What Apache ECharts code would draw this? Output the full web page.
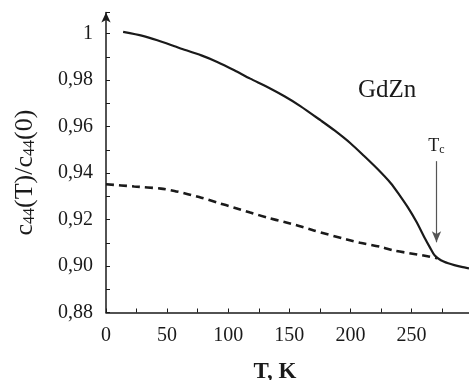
<!DOCTYPE html>
<html>
<head>
<meta charset="utf-8">
<script src="https://cdn.jsdelivr.net/npm/echarts@6/dist/echarts.min.js"></script>
<style>
html,body{margin:0;padding:0;background:#fff;}
#chart{width:469px;height:380px;}
</style>
</head>
<body>
<div id="chart"></div>
<script>
// ---- data ----
var solidT = [14, 30, 42, 60, 78, 91, 105, 118, 132, 146, 159, 176, 187, 200, 211, 222, 233, 240, 247, 254, 261, 265, 269, 274, 280, 285, 291, 297];
var solidV = [1.0007, 0.9990, 0.9971, 0.9938, 0.9906, 0.9878, 0.9842, 0.9806, 0.9770, 0.9730, 0.9688, 0.9625, 0.9583, 0.9528, 0.9474, 0.9418, 0.9356, 0.9306, 0.9252, 0.9190, 0.9118, 0.9080, 0.9045, 0.9025, 0.9012, 0.9004, 0.8996, 0.8990];
var dashT = [0, 23, 45, 56, 67, 78, 91, 105, 118, 132, 146, 158, 170, 197, 208, 225, 236, 252, 263, 271];
var dashV = [0.9352, 0.9342, 0.9333, 0.9323, 0.9309, 0.9294, 0.9273, 0.9251, 0.9230, 0.9208, 0.9189, 0.9172, 0.9153, 0.9114, 0.9100, 0.9082, 0.9066, 0.9052, 0.9042, 0.9033];
var xTickLabels = [0, 50, 100, 150, 200, 250];
var yTickLabels = [0.88, 0.90, 0.92, 0.94, 0.96, 0.98, 1.00];
var tcT = 270.4;
var tcRange = [0.9451, 0.9102];
var sampleName = 'GdZn';

function pairs(xs, ys){ return xs.map(function(x,i){ return [x, ys[i]]; }); }

var FONT = 'Liberation Serif';
var chart = echarts.init(document.getElementById('chart'), null, {renderer:'canvas'});
var option = {
  animation: false,
  backgroundColor: '#fff',
  grid: { left: 106, right: 0, top: 12.6, bottom: 67.5, containLabel: false, outerBoundsMode: 'none' },
  xAxis: {
    type: 'value', min: 0, max: 297, interval: 25,
    name: 'T, K', nameLocation: 'middle', nameGap: 48,
    nameTextStyle: { fontFamily: FONT, fontSize: 23, fontWeight: 'bold', color: '#1a1a1a', padding: [0, 25, 0, 0] },
    axisLine: { show: true, onZero: false, lineStyle: { color: '#1a1a1a', width: 1.5 } },
    axisTick: { show: true, inside: true, length: 4, lineStyle: { color: '#1a1a1a', width: 1 } },
    axisLabel: {
      margin: 13, fontFamily: FONT, fontSize: 20, color: '#1a1a1a',
      formatter: function(v){ return xTickLabels.indexOf(Math.round(v)) >= 0 ? String(Math.round(v)) : ''; }
    },
    splitLine: { show: false }
  },
  yAxis: {
    type: 'value', min: 0.88, max: 1.009, interval: 0.01,
    name: 'c{s|44}(T)/c{s|44}(0)', nameLocation: 'middle', nameGap: 68, nameRotate: 90,
    nameTextStyle: {
      fontFamily: FONT, fontSize: 26, color: '#1a1a1a', padding: [0, 20, 0, 0],
      rich: { s: { fontFamily: FONT, fontSize: 16, color: '#1a1a1a', padding: [9, 0, 0, 0] } }
    },
    axisLine: { show: true, onZero: false, symbol: ['none', 'arrow'], symbolSize: [7, 10], lineStyle: { color: '#1a1a1a', width: 1.5 } },
    axisTick: { show: true, inside: true, length: 4, lineStyle: { color: '#1a1a1a', width: 1 } },
    axisLabel: {
      margin: 13, fontFamily: FONT, fontSize: 20, color: '#1a1a1a',
      formatter: function(v){
        var k = Math.round(v * 100);
        var hit = yTickLabels.some(function(t){ return Math.round(t*100) === k; });
        if (!hit) return '';
        if (k === 100) return '1';
        return (k / 100).toFixed(2).replace('.', ',');
      }
    },
    splitLine: { show: false }
  },
  graphic: [{
    type: 'text', left: 358, top: 78,
    style: { text: sampleName, fontFamily: FONT, fontSize: 25, fill: '#1a1a1a' }
  }],
  series: [
    {
      type: 'line', data: pairs(solidT, solidV), smooth: 0.25,
      symbol: 'none', lineStyle: { color: '#1a1a1a', width: 2.2 },
      markLine: {
        silent: true, animation: false,
        lineStyle: { color: '#555', width: 1.2, type: 'solid' },
        symbolSize: [7, 11],
        label: {
          show: true, position: 'start', distance: 5,
          formatter: '{t|T}{c|c}',
          rich: {
            t: { fontFamily: FONT, fontSize: 18, color: '#1a1a1a' },
            c: { fontFamily: FONT, fontSize: 12, color: '#1a1a1a', padding: [8, 0, 0, 0] }
          }
        },
        data: [[
          { coord: [tcT, tcRange[0]], symbol: 'none' },
          { coord: [tcT, tcRange[1]], symbol: 'arrow' }
        ]]
      }
    },
    {
      type: 'line', data: pairs(dashT, dashV), smooth: 0.25,
      symbol: 'none', lineStyle: { color: '#1a1a1a', width: 2.6, type: [8, 5] }
    }
  ]
};
chart.setOption(option);
</script>
</body>
</html>
